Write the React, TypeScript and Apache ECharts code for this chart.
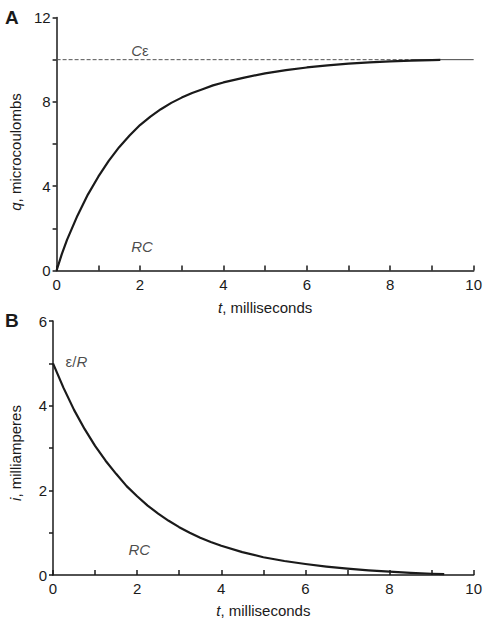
import React, { useEffect, useRef } from "react";
import * as echarts from "echarts";

const tA = [0, 0.125, 0.25, 0.5, 0.75, 1, 1.25, 1.5, 1.75, 2, 2.25, 2.5, 2.75, 3, 3.25, 3.5, 3.75, 4, 4.5, 5, 5.5, 6, 6.5, 7, 7.5, 8, 8.5, 9, 9.2];
const qA = [0, 0.78, 1.45, 2.6, 3.6, 4.45, 5.2, 5.85, 6.4, 6.9, 7.3, 7.65, 7.95, 8.2, 8.42, 8.6, 8.78, 8.92, 9.15, 9.35, 9.5, 9.63, 9.73, 9.81, 9.87, 9.92, 9.95, 9.98, 9.99];
const tB = [0, 0.25, 0.5, 0.75, 1, 1.25, 1.5, 1.75, 2, 2.25, 2.5, 2.75, 3, 3.25, 3.5, 3.75, 4, 4.5, 5, 5.5, 6, 6.5, 7, 7.5, 8, 8.5, 9, 9.3];
const iB = [5.0, 4.42, 3.9, 3.45, 3.05, 2.7, 2.39, 2.1, 1.86, 1.64, 1.45, 1.28, 1.13, 1.0, 0.88, 0.78, 0.69, 0.54, 0.42, 0.33, 0.26, 0.2, 0.15, 0.11, 0.08, 0.05, 0.03, 0.02];
const asymptoteDashT = [0, 8.5];
const asymptoteDashQ = [10, 10];
const asymptoteSolidT = [8.5, 10];
const asymptoteSolidQ = [10, 10];

const FONT = "Liberation Sans, Arial, Helvetica, sans-serif";
const INK = "#1a1a1a";

function xAxisCfg(gridIndex: number, gap: number) {
  return {
    type: "value",
    gridIndex,
    min: 0,
    max: 10,
    interval: 1,
    name: "{i|t}, milliseconds",
    nameLocation: "middle",
    nameGap: gap,
    nameTextStyle: {
      fontFamily: FONT,
      fontSize: 15,
      color: INK,
      rich: { i: { fontStyle: "italic", fontFamily: FONT, fontSize: 15, color: INK } },
    },
    axisLine: { lineStyle: { color: INK, width: 1.5 } },
    axisTick: { inside: true, length: 5, lineStyle: { color: INK, width: 1.5 } },
    axisLabel: {
      fontFamily: FONT,
      fontSize: 15,
      color: INK,
      margin: 6,
      formatter: (v: number) => (v % 2 === 0 ? String(v) : ""),
    },
    splitLine: { show: false },
  };
}

function yAxisCfg(gridIndex: number, max: number, interval: number, labelEvery: number, name: string, pad: number) {
  return {
    type: "value",
    gridIndex,
    min: 0,
    max,
    interval,
    name,
    nameLocation: "middle",
    nameGap: 30,
    nameTextStyle: {
      fontFamily: FONT,
      fontSize: 15,
      color: INK,
      padding: [0, pad, 0, 0],
      rich: { i: { fontStyle: "italic", fontFamily: FONT, fontSize: 15, color: INK } },
    },
    axisLine: { show: true, lineStyle: { color: INK, width: 1.5 } },
    axisTick: { show: true, inside: false, length: 4, lineStyle: { color: INK, width: 1.5 } },
    axisLabel: {
      fontFamily: FONT,
      fontSize: 15,
      color: INK,
      margin: 6,
      formatter: (v: number) => (Math.round(v) % labelEvery === 0 ? String(v) : ""),
    },
    splitLine: { show: false },
  };
}

function annot(xi: number, yi: number, x: number, y: number, text: string, align: string) {
  return {
    type: "scatter",
    xAxisIndex: xi,
    yAxisIndex: yi,
    symbolSize: 0,
    silent: true,
    data: [[x, y]],
    label: {
      show: true,
      position: "inside",
      align,
      verticalAlign: "middle",
      formatter: text,
      fontFamily: FONT,
      fontSize: 15,
      color: INK,
      rich: { i: { fontStyle: "italic", fontFamily: FONT, fontSize: 15, color: INK } },
    },
  };
}

export default function App() {
  const ref = useRef<HTMLDivElement>(null);
  useEffect(() => {
    document.body.style.margin = "0";
    if (!ref.current) return;
    const chart = echarts.init(ref.current, null, { renderer: "svg" });
    chart.setOption({
      animation: false,
      backgroundColor: "#ffffff",
      grid: [
        { left: 52.3, top: 17.5, width: 425, height: 253 },
        { left: 52.3, top: 321, width: 425, height: 254 },
      ],
      xAxis: [xAxisCfg(0, 29), xAxisCfg(1, 28)],
      yAxis: [
        yAxisCfg(0, 12, 2, 4, "{i|q}, microcoulombs", 16),
        yAxisCfg(1, 6, 1, 2, "{i|i}, milliamperes", 10),
      ],
      graphic: [
        { type: "text", left: 5, top: 8, style: { text: "A", fontFamily: FONT, fontSize: 19, fontWeight: "bold", fill: INK } },
        { type: "text", left: 5, top: 311, style: { text: "B", fontFamily: FONT, fontSize: 19, fontWeight: "bold", fill: INK } },
      ],
      series: [
        {
          type: "line",
          xAxisIndex: 0,
          yAxisIndex: 0,
          data: asymptoteDashT.map((t, k) => [t, asymptoteDashQ[k]]),
          symbol: "none",
          silent: true,
          lineStyle: { color: "#555", width: 1, type: [4, 2] },
        },
        {
          type: "line",
          xAxisIndex: 0,
          yAxisIndex: 0,
          data: asymptoteSolidT.map((t, k) => [t, asymptoteSolidQ[k]]),
          symbol: "none",
          silent: true,
          lineStyle: { color: "#444", width: 1 },
        },
        {
          type: "line",
          xAxisIndex: 0,
          yAxisIndex: 0,
          data: tA.map((t, k) => [t, qA[k]]),
          symbol: "none",
          silent: true,
          lineStyle: { color: INK, width: 2.2, join: "round" },
        },
        {
          type: "line",
          xAxisIndex: 1,
          yAxisIndex: 1,
          data: tB.map((t, k) => [t, iB[k]]),
          symbol: "none",
          silent: true,
          lineStyle: { color: INK, width: 2.2, join: "round" },
        },
        annot(0, 0, 2, 10.45, "{i|C}ε", "center"),
        annot(0, 0, 2.05, 1.15, "{i|RC}", "center"),
        annot(1, 1, 0.3, 5.05, "ε/{i|R}", "left"),
        annot(1, 1, 2.05, 0.6, "{i|RC}", "center"),
      ],
    });
    return () => chart.dispose();
  }, []);
  return <div ref={ref} style={{ width: 485, height: 625 }} />;
}
